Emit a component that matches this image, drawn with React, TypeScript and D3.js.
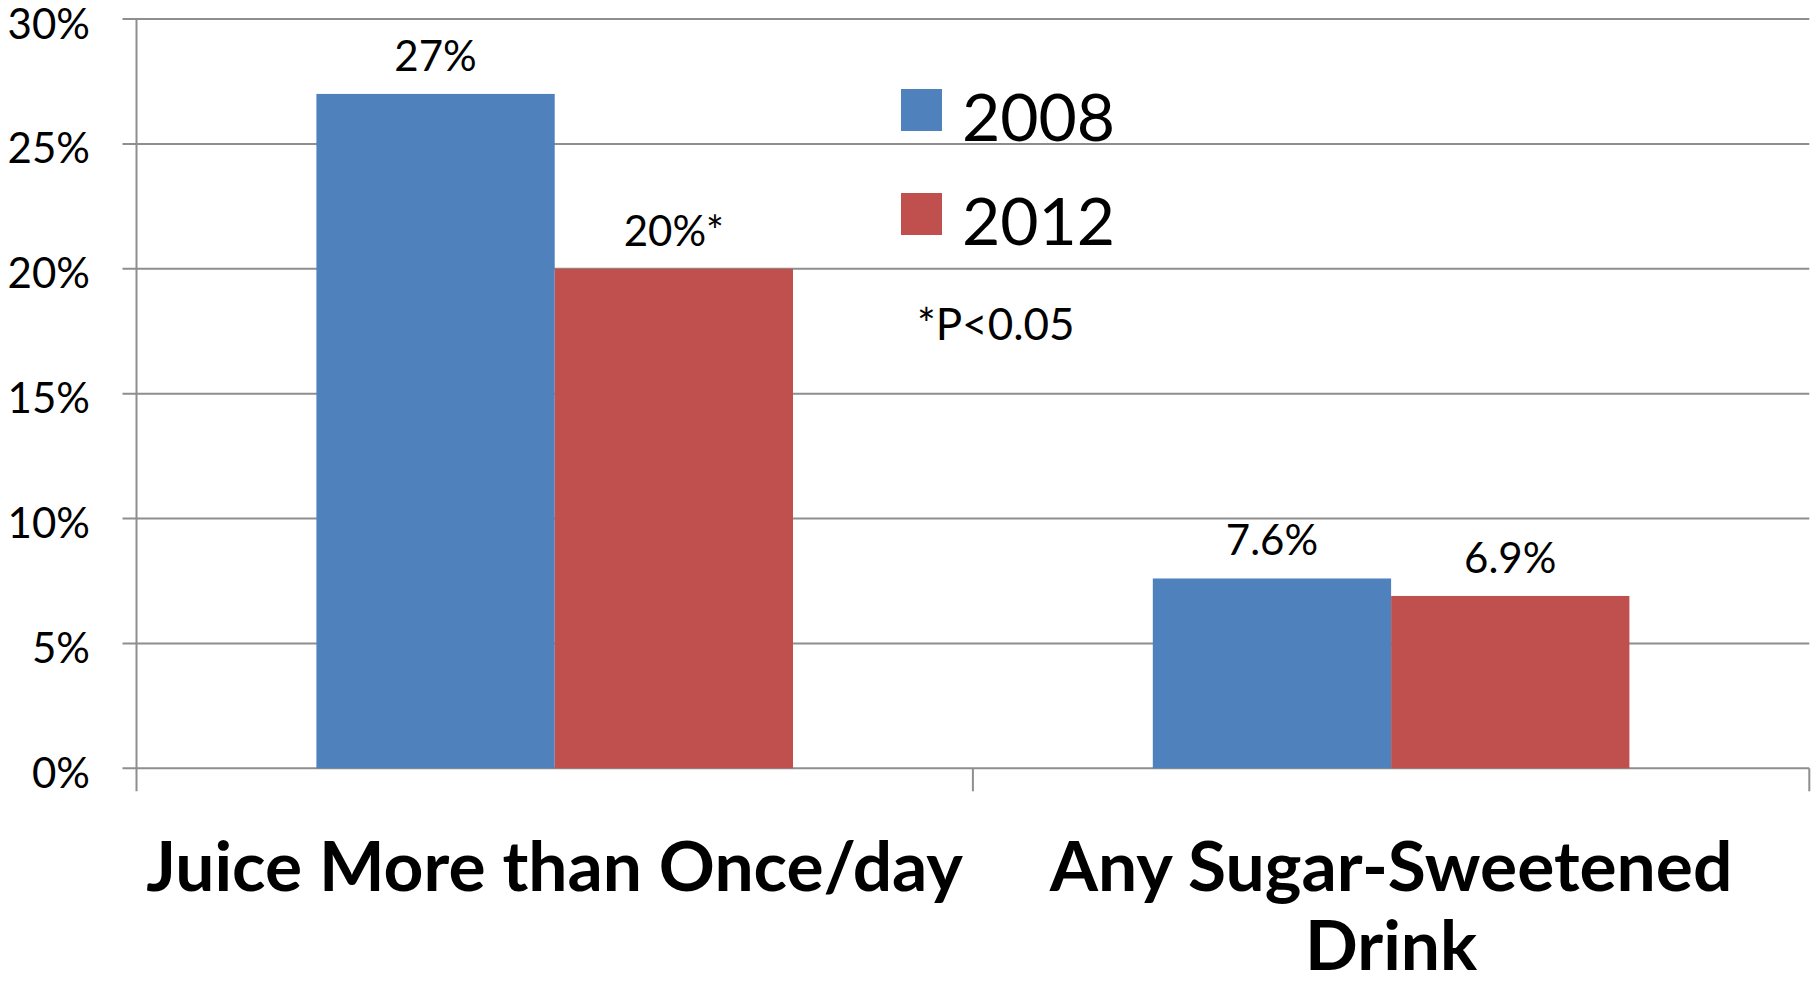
import React from "react";
import * as d3 from "d3";

const categories = ["Juice More than Once/day", "Any Sugar-Sweetened Drink"];
const categoryLines = [["Juice More than Once/day"], ["Any Sugar-Sweetened", "Drink"]];
const seriesNames = ["2008", "2012"];
const values2008 = [27, 7.6];
const values2012 = [20, 6.9];
const labels2008 = ["27%", "7.6%"];
const labels2012 = ["20%*", "6.9%"];
const yTicks = [0, 5, 10, 15, 20, 25, 30];
const colors = ["#4F81BD", "#C0504D"];
const note = "*P<0.05";

const W = 1816;
const H = 983;
const FONT = "Lato, 'Open Sans', sans-serif";

export default function App() {
  const left = 136.5;
  const right = 1809.3;
  const top = 19;
  const bottom = 768.3;

  const x0 = d3.scaleBand<string>().domain(categories).range([left, right]).paddingInner(0).paddingOuter(0);
  const x1 = d3.scaleBand<string>().domain(seriesNames).range([0, x0.bandwidth()]).paddingInner(0).paddingOuter(0.755);
  const y = d3.scaleLinear().domain([0, 30]).range([bottom, top]);

  const series = [
    { name: seriesNames[0], values: values2008, labels: labels2008, color: colors[0] },
    { name: seriesNames[1], values: values2012, labels: labels2012, color: colors[1] },
  ];

  const gridColor = "#8E8E8E";

  return (
    <svg
      width={W}
      height={H}
      viewBox={`0 0 ${W} ${H}`}
      style={{ position: "absolute", left: 0, top: 0, background: "#fff" }}
    >
      <rect x={0} y={0} width={W} height={H} fill="#fff" />
      {yTicks.map((t) => (
        <line key={"g" + t} x1={left - 14} x2={right} y1={y(t)} y2={y(t)} stroke={gridColor} strokeWidth={2} />
      ))}
      <line x1={left} x2={left} y1={top} y2={bottom + 23} stroke={gridColor} strokeWidth={2} />
      {categories.map((c) => (
        <line
          key={"ct" + c}
          x1={(x0(c) as number) + x0.bandwidth()}
          x2={(x0(c) as number) + x0.bandwidth()}
          y1={bottom}
          y2={bottom + 23}
          stroke={gridColor}
          strokeWidth={2}
        />
      ))}
      {yTicks.map((t) => (
        <text
          key={"yl" + t}
          x={90}
          y={y(t) + 19.5}
          textAnchor="end"
          fontFamily={FONT}
          fontSize={42}
          fill="#000"
        >
          {t + "%"}
        </text>
      ))}
      {series.map((s) =>
        categories.map((c, i) => {
          const bx = (x0(c) as number) + (x1(s.name) as number);
          const bw = x1.bandwidth();
          return (
            <g key={s.name + c}>
              <rect x={bx} y={y(s.values[i])} width={bw} height={bottom - y(s.values[i])} fill={s.color} />
              <text
                x={bx + bw / 2}
                y={y(s.values[i]) - 23}
                textAnchor="middle"
                fontFamily={FONT}
                fontSize={42}
                fill="#000"
              >
                {s.labels[i]}
              </text>
            </g>
          );
        })
      )}
      {series.map((s, i) => (
        <g key={"lg" + s.name}>
          <rect x={901} y={89 + i * 104} width={41} height={42} fill={s.color} />
          <text x={962} y={140.7 + i * 104.3} fontFamily={FONT} fontSize={66} fill="#000">
            {s.name}
          </text>
        </g>
      ))}
      <text x={917} y={340} fontFamily={FONT} fontSize={44} fill="#000">
        {note}
      </text>
      {categories.map((c, i) => (
        <text
          key={"cl" + c}
          x={(x0(c) as number) + x0.bandwidth() / 2}
          y={890.7}
          textAnchor="middle"
          fontFamily={FONT}
          fontWeight="bold"
          fontSize={69.5}
          fill="#000"
        >
          {categoryLines[i].map((line, j) => (
            <tspan key={j} x={(x0(c) as number) + x0.bandwidth() / 2} dy={j === 0 ? 0 : 79}>
              {line}
            </tspan>
          ))}
        </text>
      ))}
    </svg>
  );
}
